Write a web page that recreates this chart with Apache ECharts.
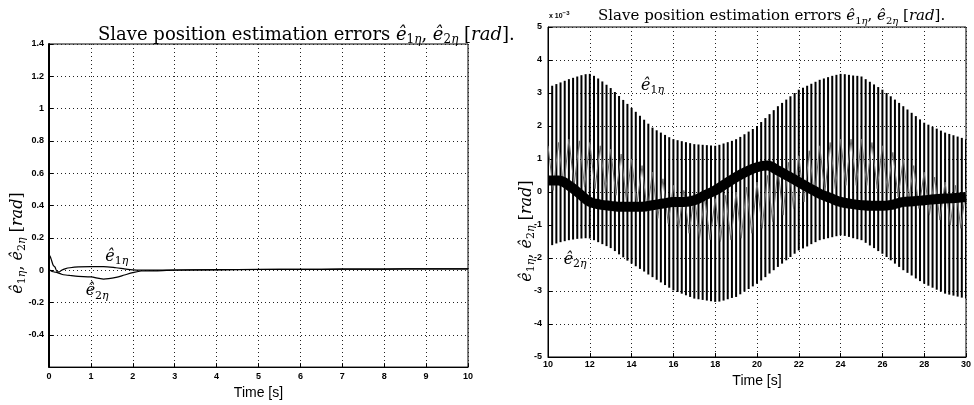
<!DOCTYPE html>
<html>
<head>
<meta charset="utf-8">
<script src="https://cdn.jsdelivr.net/npm/echarts@6/dist/echarts.min.js"></script>
<style>
  html, body { margin: 0; padding: 0; background: #fff; }
  #chart { width: 974px; height: 405px; }
</style>
</head>
<body>
<div id="chart"></div>
<script>
// ---------------- DATA ----------------
// Left panel: t in [s], errors in [rad]
const leftTime = [0, 0.02, 0.05, 0.1, 0.14, 0.2, 0.25, 0.3, 0.4, 0.5, 0.7, 1.0, 1.3, 1.6, 1.8, 2.0, 2.2, 2.5, 3, 4, 5, 6, 7, 8, 9, 10];
const leftE1 = [0, 0.09, 0.07, 0.03, 0.02, -0.01, -0.01, 0.0, 0.01, 0.015, 0.02, 0.022, 0.022, 0.015, 0.008, 0.002, 0.0, 0.0, 0.001, 0.003, 0.005, 0.005, 0.006, 0.007, 0.008, 0.008];
const leftE2 = [0, 0.0, -0.005, -0.01, -0.012, -0.015, -0.02, -0.025, -0.03, -0.033, -0.038, -0.042, -0.055, -0.045, -0.03, -0.015, -0.005, -0.004, 0.0, 0.002, 0.004, 0.005, 0.006, 0.007, 0.008, 0.008];

// Right panel (values in units of 1e-3 rad): fast oscillation, one stripe every 0.2 s from t = 10 s
const rightStart = 10;
const rightStep = 0.2;
const rightTop = [
  3.18, 3.22, 3.27, 3.32, 3.37,
  3.42, 3.46, 3.50, 3.54, 3.57,
  3.58, 3.52, 3.44, 3.35, 3.25,
  3.15, 3.03, 2.91, 2.79, 2.67,
  2.55, 2.43, 2.31, 2.19, 2.07,
  1.95, 1.87, 1.80, 1.73, 1.66,
  1.60, 1.57, 1.54, 1.51, 1.48,
  1.45, 1.44, 1.43, 1.42, 1.41,
  1.40, 1.43, 1.47, 1.51, 1.55,
  1.60, 1.67, 1.75, 1.83, 1.91,
  2.00, 2.12, 2.24, 2.36, 2.48,
  2.60, 2.70, 2.80, 2.90, 3.00,
  3.10, 3.16, 3.22, 3.28, 3.34,
  3.40, 3.44, 3.48, 3.52, 3.55,
  3.58, 3.57, 3.55, 3.53, 3.52,
  3.50, 3.42, 3.34, 3.26, 3.18,
  3.10, 3.00, 2.90, 2.80, 2.70,
  2.60, 2.50, 2.40, 2.30, 2.20,
  2.10, 2.04, 1.98, 1.92, 1.86,
  1.80, 1.76, 1.72, 1.68, 1.64,
  1.60
];
const rightBot = [
  -1.67, -1.61, -1.56, -1.52, -1.49,
  -1.46, -1.44, -1.42, -1.41, -1.40,
  -1.41, -1.46, -1.52, -1.58, -1.64,
  -1.70, -1.79, -1.89, -1.98, -2.08,
  -2.17, -2.25, -2.33, -2.41, -2.50,
  -2.58, -2.66, -2.74, -2.82, -2.90,
  -2.98, -3.03, -3.08, -3.13, -3.18,
  -3.23, -3.25, -3.27, -3.29, -3.31,
  -3.33, -3.32, -3.29, -3.25, -3.21,
  -3.18, -3.10, -3.02, -2.94, -2.86,
  -2.78, -2.68, -2.58, -2.47, -2.37,
  -2.27, -2.17, -2.07, -1.97, -1.87,
  -1.77, -1.71, -1.65, -1.58, -1.52,
  -1.46, -1.43, -1.40, -1.37, -1.34,
  -1.31, -1.33, -1.36, -1.40, -1.43,
  -1.46, -1.54, -1.62, -1.70, -1.79,
  -1.87, -1.97, -2.07, -2.17, -2.27,
  -2.37, -2.45, -2.53, -2.62, -2.70,
  -2.78, -2.84, -2.90, -2.96, -3.02,
  -3.08, -3.11, -3.14, -3.17, -3.20,
  -3.23
];
// Grey component, sampled every 0.5 s (peaks at t, troughs at t + 0.25)
const grayStart = 10;
const grayStep = 0.5;
const grayTop = [1.4, 1.5, 1.6, 1.55, 1.5, 1.4, 1.3, 1.15, 1.0, 0.8, 0.6, 0.4, 0.2, 0.05, -0.1, -0.15, -0.2, -0.1, 0.0, 0.15, 0.3, 0.5, 0.7, 0.9, 1.1, 1.25, 1.4, 1.5, 1.6, 1.6, 1.6, 1.5, 1.4, 1.2, 1.0, 0.8, 0.6, 0.45, 0.3, 0.2, 0.1];
const grayBot = [0.05, 0.15, 0.2, 0.15, 0.1, 0.0, -0.1, -0.25, -0.4, -0.6, -0.8, -0.95, -1.1, -1.25, -1.4, -1.45, -1.5, -1.45, -1.4, -1.25, -1.1, -0.9, -0.7, -0.5, -0.3, -0.15, 0.0, 0.1, 0.2, 0.2, 0.2, 0.1, 0.0, -0.15, -0.3, -0.5, -0.7, -0.85, -1.0, -1.1];
// Slow dark band, every 0.5 s from t = 10 s
const bandStart = 10;
const bandStep = 0.5;
const bandVals = [0.35, 0.35, 0.2, -0.05, -0.3, -0.38, -0.42, -0.45, -0.45, -0.45, -0.4, -0.35, -0.3, -0.3, -0.25, -0.1, 0.05, 0.25, 0.45, 0.62, 0.75, 0.8, 0.65, 0.48, 0.3, 0.12, -0.05, -0.18, -0.3, -0.36, -0.4, -0.42, -0.42, -0.38, -0.3, -0.28, -0.25, -0.22, -0.2, -0.18, -0.15];

// ---------------- BUILD ----------------
const leftS1 = leftTime.map((t, i) => [t, leftE1[i]]);
const leftS2 = leftTime.map((t, i) => [t, leftE2[i]]);
const stripes = rightTop.map((v, i) => [rightStart + i * rightStep, rightBot[i], v]);
const grayLine = [];
grayTop.forEach((v, i) => {
  grayLine.push([grayStart + i * grayStep, v]);
  if (i < grayBot.length) grayLine.push([grayStart + i * grayStep + grayStep / 2, grayBot[i]]);
});
const band = bandVals.map((v, i) => [bandStart + i * bandStep, v]);

const SERIF = "'DejaVu Serif', 'Liberation Serif', serif";
const SANS = "'Liberation Sans', Arial, sans-serif";
const mathRich = (size) => {
  const sub = Math.round(size * 0.68);
  const base = { fontFamily: SERIF, color: '#000', fontWeight: 'normal', textBorderWidth: 0 };
  return {
    n: Object.assign({}, base, { fontSize: size, lineHeight: size + 4, verticalAlign: 'middle' }),
    e: Object.assign({}, base, { fontSize: size, fontStyle: 'italic', lineHeight: size + 4, verticalAlign: 'middle' }),
    s: Object.assign({}, base, { fontSize: sub, lineHeight: sub, padding: [Math.round(size * 0.55), 0, 0, 0], verticalAlign: 'bottom' }),
    t: Object.assign({}, base, { fontSize: sub, fontStyle: 'italic', lineHeight: sub, padding: [Math.round(size * 0.55), 0, 0, 0], verticalAlign: 'bottom' })
  };
};
const titleText = '{n|Slave position estimation errors }{e|ê}{s|1}{t|η}{n|, }{e|ê}{s|2}{t|η}{n| [}{e|rad}{n|].}';
const yNameText = '{e|ê}{s|1}{t|η}{n|, }{e|ê}{s|2}{t|η}{n| [}{e|rad}{n|]}';

const tickLabel = { color: '#000', fontFamily: SANS, fontWeight: 'bold', fontSize: 9 };
const grid = { type: [1, 3], color: '#222', width: 1 };
const fmt = (v) => String(parseFloat(Number(v).toFixed(2)));

const annot = (xi, yi, pos, sub) => ({
  type: 'scatter', xAxisIndex: xi, yAxisIndex: yi, symbolSize: 0, silent: true, z: 10,
  itemStyle: { opacity: 1, color: '#000' },
  data: [pos],
  label: { show: true, position: 'inside', color: '#000', opacity: 1, textBorderWidth: 0,
           formatter: '{e|ê}{s|' + sub + '}{t|η}', rich: mathRich(16) }
});

const chart = echarts.init(document.getElementById('chart'), null, { renderer: 'canvas' });
chart.setOption({
  animation: false,
  backgroundColor: '#fff',
  title: [
    { text: titleText, left: 93, top: 19, textStyle: { fontWeight: 'normal', rich: mathRich(18) } },
    { text: titleText, left: 593, top: 2, textStyle: { fontWeight: 'normal', rich: mathRich(15) } }
  ],
  graphic: [
    { type: 'text', x: 18, y: 243, rotation: Math.PI / 2, style: { text: yNameText, rich: mathRich(16), align: 'center', verticalAlign: 'middle' } },
    { type: 'text', x: 527, y: 231, rotation: Math.PI / 2, style: { text: yNameText, rich: mathRich(16), align: 'center', verticalAlign: 'middle' } },
    { type: 'text', x: 549, y: 10, style: { text: '{a|x 10}{b|−3}', rich: { a: { fontFamily: SANS, fontWeight: 'bold', fontSize: 7, padding: [3, 0, 0, 0], verticalAlign: 'bottom' }, b: { fontFamily: SANS, fontWeight: 'bold', fontSize: 6, verticalAlign: 'top' } } } }
  ],
  grid: [
    { left: 49, top: 44, width: 419, height: 330, show: true, borderColor: '#000', borderWidth: 1 },
    { left: 548, top: 27, width: 421, height: 330, show: true, borderColor: '#000', borderWidth: 1 }
  ],
  xAxis: [
    { gridIndex: 0, type: 'value', min: 0, max: 10, interval: 1,
      axisLine: { show: true, onZero: false, lineStyle: { color: '#000', width: 1 } },
      axisTick: { show: true, inside: true, length: 4, lineStyle: { color: '#000' } },
      axisLabel: Object.assign({ margin: 5, formatter: fmt }, tickLabel),
      splitLine: { show: true, lineStyle: grid },
      name: 'Time [s]', nameLocation: 'middle', nameGap: 15,
      nameTextStyle: { fontFamily: SANS, fontSize: 14, color: '#000' } },
    { gridIndex: 1, type: 'value', min: 10, max: 30, interval: 2,
      axisLine: { show: true, onZero: false, lineStyle: { color: '#000', width: 1 } },
      axisTick: { show: true, inside: true, length: 4, lineStyle: { color: '#000' } },
      axisLabel: Object.assign({ margin: 3, formatter: fmt }, tickLabel),
      splitLine: { show: true, lineStyle: grid },
      name: 'Time [s]', nameLocation: 'middle', nameGap: 12,
      nameTextStyle: { fontFamily: SANS, fontSize: 14, color: '#000' } }
  ],
  yAxis: [
    { gridIndex: 0, type: 'value', min: -0.6, max: 1.4, interval: 0.2,
      axisLine: { show: true, onZero: false, lineStyle: { color: '#000', width: 2 } },
      axisTick: { show: true, inside: true, length: 4, lineStyle: { color: '#000' } },
      axisLabel: Object.assign({ margin: 5, formatter: (v) => (v < -0.5 ? '' : fmt(v)) }, tickLabel),
      splitLine: { show: true, lineStyle: grid } },
    { gridIndex: 1, type: 'value', min: -5, max: 5, interval: 1,
      axisLine: { show: true, onZero: false, lineStyle: { color: '#000', width: 1 } },
      axisTick: { show: true, inside: true, length: 4, lineStyle: { color: '#000' } },
      axisLabel: Object.assign({ margin: 6, formatter: fmt }, tickLabel),
      splitLine: { show: true, lineStyle: grid } }
  ],
  series: [
    { type: 'line', xAxisIndex: 0, yAxisIndex: 0, data: leftS1, showSymbol: false, smooth: 0.3,
      lineStyle: { color: '#000', width: 1.2 } },
    { type: 'line', xAxisIndex: 0, yAxisIndex: 0, data: leftS2, showSymbol: false, smooth: 0.3,
      lineStyle: { color: '#000', width: 1.2 } },
    { type: 'custom', xAxisIndex: 1, yAxisIndex: 1, data: stripes, clip: true,
      encode: { x: 0, y: [1, 2] },
      renderItem: (params, api) => {
        const p1 = api.coord([api.value(0), api.value(1)]);
        const p2 = api.coord([api.value(0), api.value(2)]);
        return { type: 'line', shape: { x1: p1[0], y1: p1[1], x2: p2[0], y2: p2[1] },
                 style: { stroke: '#000', lineWidth: 2 } };
      } },
    { type: 'line', xAxisIndex: 1, yAxisIndex: 1, data: grayLine, showSymbol: false,
      lineStyle: { color: '#6e6e6e', width: 1 } },
    { type: 'line', xAxisIndex: 1, yAxisIndex: 1, data: band, showSymbol: false, smooth: 0.4,
      lineStyle: { color: '#000', width: 10 } },
    annot(0, 0, [1.62, 0.085], '1'),
    annot(0, 0, [1.15, -0.13], '2'),
    annot(1, 1, [15.0, 3.23], '1'),
    annot(1, 1, [11.3, -2.05], '2')
  ]
});
</script>
</body>
</html>
